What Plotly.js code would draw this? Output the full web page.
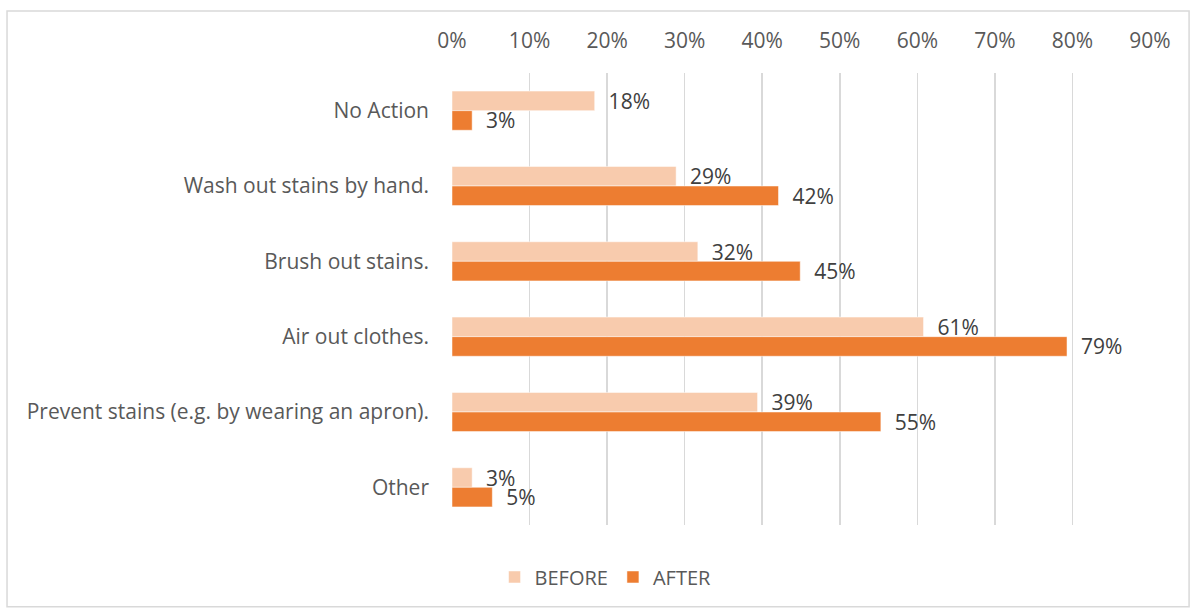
<!DOCTYPE html>
<html>
<head>
<meta charset="utf-8">
<script src="https://cdn.plot.ly/plotly-3.0.1.min.js"></script>
<style>html,body{margin:0;padding:0;background:#fff;}#chart{width:1190px;height:609px;}</style>
</head>
<body>
<div id="chart"></div>
<script>
const categories = [
  "No Action",
  "Wash out stains by hand.",
  "Brush out stains.",
  "Air out clothes.",
  "Prevent stains (e.g. by wearing an apron).",
  "Other"
];
const before = [0.184, 0.289, 0.317, 0.608, 0.394, 0.026];
const after  = [0.026, 0.421, 0.449, 0.793, 0.553, 0.052];
const xTickVals = [0, 0.1, 0.2, 0.3, 0.4, 0.5, 0.6, 0.7, 0.8, 0.9];

const FONT = "Open Sans, Noto Sans, sans-serif";
const labelFont = {family: FONT, size: 21, color: "#404040"};

const traces = [
  {
    type: "bar", orientation: "h", name: "BEFORE",
    y: categories, x: before,
    marker: {color: "#F8CBAD", line: {color: "#ffffff", width: 0.5}},
    texttemplate: "\u00a0\u00a0%{x:.0%}", textposition: "outside",
    constraintext: "none",
    textfont: labelFont, cliponaxis: false, hoverinfo: "x+y"
  },
  {
    type: "bar", orientation: "h", name: "AFTER",
    y: categories, x: after,
    marker: {color: "#ED7D31", line: {color: "#ffffff", width: 0.5}},
    texttemplate: "\u00a0\u00a0%{x:.0%}", textposition: "outside",
    constraintext: "none",
    textfont: labelFont, cliponaxis: false, hoverinfo: "x+y"
  }
];

const layout = {
  width: 1190, height: 609,
  margin: {l: 452, r: 40, t: 73, b: 84},
  paper_bgcolor: "#ffffff", plot_bgcolor: "#ffffff",
  barmode: "group", bargap: 0.48, bargroupgap: 0,
  showlegend: true,
  legend: {
    orientation: "h", x: 0.22, xanchor: "center", y: -0.115, yanchor: "middle",
    font: {family: FONT, size: 20, color: "#595959"},
    traceorder: "normal"
  },
  xaxis: {
    side: "top", range: [0, 0.9], tickvals: xTickVals, tickformat: ".0%",
    showgrid: true, gridcolor: "#D9D9D9", gridwidth: 1.5,
    zeroline: false, showline: false, ticks: "",
    ticklabelstandoff: 20,
    tickfont: {family: FONT, size: 21, color: "#595959"},
    fixedrange: true
  },
  yaxis: {
    autorange: "reversed", type: "category",
    showgrid: false, zeroline: false, showline: false, ticks: "",
    ticklabelstandoff: 22,
    tickfont: {family: FONT, size: 21, color: "#595959"},
    fixedrange: true
  },
  shapes: [{
    type: "rect", xref: "paper", yref: "paper",
    x0: -0.6375, x1: 1.056, y0: -0.181, y1: 1.137,
    line: {color: "#D9D9D9", width: 1.5}, fillcolor: "rgba(0,0,0,0)", layer: "below"
  }]
};

Plotly.newPlot("chart", traces, layout, {displayModeBar: false, staticPlot: true});
</script>
</body>
</html>
